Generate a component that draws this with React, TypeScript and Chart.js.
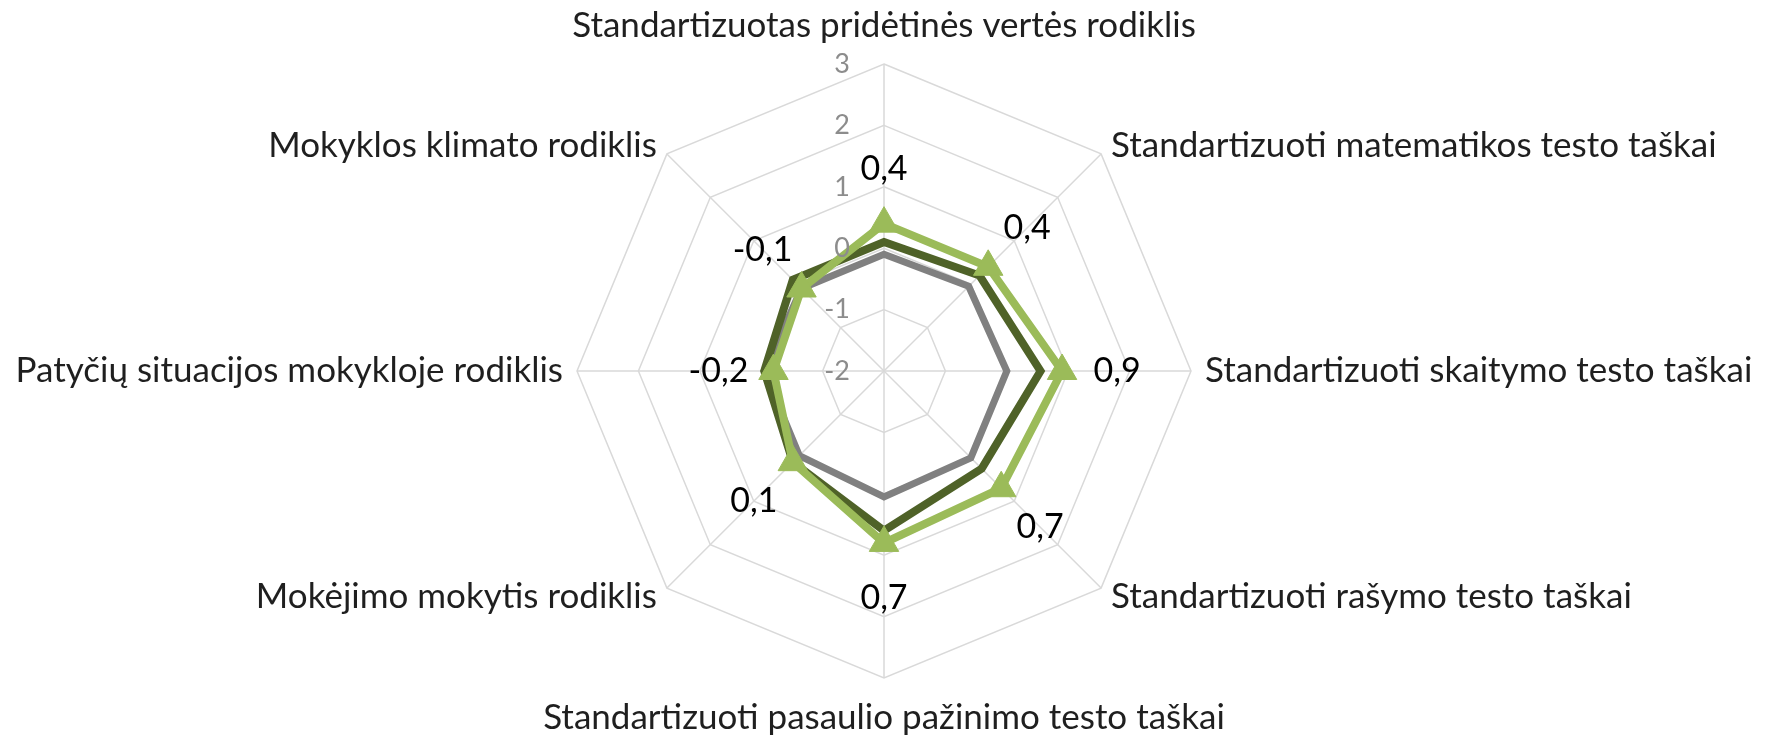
import React, { useEffect, useRef } from "react";
import { Chart, registerables } from "chart.js";

Chart.register(...registerables);

const categories = [
  "Standartizuotas pridėtinės vertės rodiklis",
  "Standartizuoti matematikos testo taškai",
  "Standartizuoti skaitymo testo taškai",
  "Standartizuoti rašymo testo taškai",
  "Standartizuoti pasaulio pažinimo testo taškai",
  "Mokėjimo mokytis rodiklis",
  "Patyčių situacijos mokykloje rodiklis",
  "Mokyklos klimato rodiklis",
];

const schoolValues = [0.4, 0.4, 0.9, 0.7, 0.8, 0.1, -0.2, -0.1];
const schoolValueLabels = ["0,4", "0,4", "0,9", "0,7", "0,7", "0,1", "-0,2", "-0,1"];
const groupValues = [0.1, 0.2, 0.55, 0.25, 0.6, 0.1, -0.05, 0.1];
const averageValues = [-0.1, -0.05, 0, 0, 0.05, -0.05, -0.05, -0.1];

const axisMin = -2;
const axisMax = 3;
const axisStep = 1;

const FONT = "Lato, 'Open Sans', 'DejaVu Sans', sans-serif";

const overlayPlugin = {
  id: "overlayText",
  afterDatasetsDraw(chart: any) {
    const scale = chart.scales.r;
    const ctx: CanvasRenderingContext2D = chart.ctx;
    const cx = scale.xCenter;
    const cy = scale.yCenter;
    ctx.save();

    // tick labels, left of the vertical axis
    ctx.font = `27px ${FONT}`;
    ctx.fillStyle = "#8c8c8c";
    ctx.textAlign = "right";
    ctx.textBaseline = "middle";
    scale.ticks.forEach((t: any) => {
      const d = scale.getDistanceFromCenterForValue(t.value);
      ctx.fillText(String(t.value), cx - 34, cy - d);
    });

    // category labels
    ctx.font = `35px ${FONT}`;
    ctx.fillStyle = "#1f1f1f";
    const labels: string[] = chart.data.labels;
    labels.forEach((lab, i) => {
      const p = scale.getPointPosition(i, scale.drawingArea);
      const dx = p.x - cx;
      const dy = p.y - cy;
      let x = p.x;
      let y = p.y;
      if (Math.abs(dx) < 1) {
        ctx.textAlign = "center";
        y = p.y + (dy < 0 ? -38 : 40);
      } else {
        ctx.textAlign = dx > 0 ? "left" : "right";
        const horiz = Math.abs(dy) < 1;
        x = p.x + Math.sign(dx) * (horiz ? 14 : 10);
        y = p.y + (horiz ? 0 : Math.sign(dy) * 8.5);
      }
      ctx.textBaseline = "middle";
      ctx.fillText(lab, x, y);
    });

    // value labels of the highlighted series
    ctx.font = `34px ${FONT}`;
    ctx.fillStyle = "#000000";
    ctx.textAlign = "center";
    ctx.textBaseline = "middle";
    const ds = chart.data.datasets[0];
    ds.data.forEach((v: number, i: number) => {
      const d = scale.getDistanceFromCenterForValue(v) + 55;
      const p = scale.getPointPosition(i, d);
      ctx.fillText(schoolValueLabels[i], p.x, p.y);
    });

    ctx.restore();
  },
};

export default function App() {
  const ref = useRef<HTMLCanvasElement | null>(null);

  useEffect(() => {
    if (!ref.current) return;
    const chart = new Chart(ref.current, {
      type: "radar",
      data: {
        labels: categories,
        datasets: [
          {
            label: "Mokykla",
            data: schoolValues,
            borderColor: "#9BBB59",
            backgroundColor: "#9BBB59",
            borderWidth: 8,
            fill: false,
            pointStyle: "triangle",
            pointRadius: 17,
            pointBackgroundColor: "#9BBB59",
            pointBorderColor: "#9BBB59",
            pointBorderWidth: 1,
            tension: 0,
          },
          {
            label: "Grupė",
            data: groupValues,
            borderColor: "#4F6228",
            backgroundColor: "#4F6228",
            borderWidth: 8,
            fill: false,
            pointRadius: 0,
            tension: 0,
          },
          {
            label: "Vidurkis",
            data: averageValues,
            borderColor: "#808080",
            backgroundColor: "#808080",
            borderWidth: 7,
            fill: false,
            pointRadius: 0,
            tension: 0,
          },
        ],
      },
      options: {
        responsive: false,
        maintainAspectRatio: false,
        devicePixelRatio: 1,
        animation: false,
        layout: { padding: { top: 56, bottom: 58, left: 0, right: 13 } },
        plugins: {
          legend: { display: false },
          tooltip: { enabled: false },
          title: { display: false },
        },
        scales: {
          r: {
            min: axisMin,
            max: axisMax,
            ticks: { stepSize: axisStep, display: false },
            grid: { color: "#D9D9D9", lineWidth: 1.5 },
            angleLines: { color: "#D9D9D9", lineWidth: 1.5 },
            pointLabels: { display: false },
          },
        },
      },
      plugins: [overlayPlugin],
    });
    return () => chart.destroy();
  }, []);

  return (
    <canvas
      ref={ref}
      width={1765}
      height={728}
      style={{ display: "block", width: 1765, height: 728 }}
    />
  );
}
